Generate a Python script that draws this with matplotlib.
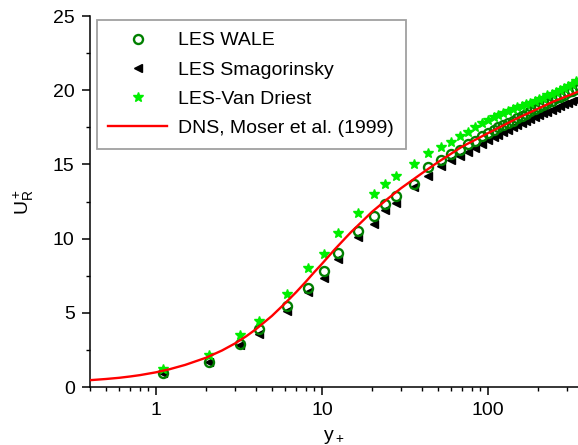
import matplotlib
matplotlib.use("Agg")
import matplotlib.pyplot as plt
from matplotlib.ticker import MultipleLocator, LogLocator, NullFormatter, FixedLocator, FixedFormatter

plt.rcParams['font.family'] = ['Liberation Sans', 'DejaVu Sans']
plt.rcParams['mathtext.default'] = 'regular'

# wall distance of the LES grid points (y+)
yplus = [1.1, 2.1, 3.2, 4.2, 6.2, 8.3, 10.3, 12.5, 16.5, 20.5, 23.9, 27.9,
         35.8, 43.5, 52.1, 59.8, 67.7, 75.7, 83.5, 91.9, 100, 108.6, 116,
         124, 132, 141, 150, 160, 170, 181, 192, 204, 216, 229, 243, 257,
         272, 288, 305, 322, 340, 358]

u_wale = [0.95, 1.69, 2.9, 3.9, 5.5, 6.7, 7.8, 9.05, 10.5, 11.5, 12.35, 12.85,
          13.7, 14.8, 15.3, 15.7, 16.0, 16.35, 16.55, 16.9, 17.15, 17.35, 17.5,
          17.65, 17.8, 17.95, 18.1, 18.25, 18.4, 18.6, 18.75, 18.9, 19.0, 19.15,
          19.3, 19.45, 19.55, 19.7, 19.85, 19.95, 20.1, 20.2]

u_smag = [0.95, 1.7, 2.85, 3.6, 5.15, 6.4, 7.35, 8.6, 10.1, 11.0, 11.9, 12.4,
          13.45, 14.2, 14.9, 15.3, 15.6, 15.85, 16.1, 16.4, 16.65, 16.85, 17.0,
          17.2, 17.35, 17.5, 17.65, 17.8, 17.9, 18.05, 18.2, 18.3, 18.45, 18.55,
          18.7, 18.8, 18.95, 19.05, 19.15, 19.25, 19.35, 19.45]

u_vd = [1.2, 2.16, 3.5, 4.45, 6.3, 8.0, 9.0, 10.4, 11.75, 13.0, 13.7, 14.2,
        15.0, 15.75, 16.2, 16.5, 16.9, 17.2, 17.55, 17.8, 18.0, 18.2, 18.35,
        18.5, 18.6, 18.75, 18.85, 18.95, 19.05, 19.15, 19.3, 19.4, 19.5, 19.65,
        19.75, 19.9, 20.0, 20.15, 20.3, 20.45, 20.6, 20.7]

# DNS, Moser et al. (1999)
dns_y = [0.4, 0.5, 0.6, 0.7, 0.8, 1.0, 1.2, 1.5, 2.0, 2.5, 3.0, 3.5, 4.0, 5.0,
         6.0, 7.0, 8.0, 9.0, 10.0, 12.0, 15.0, 18.0, 20.0, 25.0, 30.0, 40.0,
         50.0, 70.0, 100.0, 150.0, 200.0, 250.0, 300.0, 350.0]
dns_u = [0.47, 0.55, 0.63, 0.72, 0.81, 1.0, 1.2, 1.5, 1.98, 2.47, 2.95, 3.43,
         3.9, 4.8, 5.65, 6.4, 7.1, 7.75, 8.3, 9.3, 10.45, 11.3, 11.8, 12.7,
         13.4, 14.4, 15.15, 16.2, 17.1, 18.1, 18.75, 19.25, 19.6, 19.9]

fig = plt.figure(figsize=(5.78, 4.45), dpi=100)
ax = fig.add_axes([0.1557, 0.130, 0.8443, 0.834])

ax.plot(yplus, u_smag, ls='none', marker='<', ms=6, color='black',
        label='LES Smagorinsky', zorder=2)
ax.plot(yplus, u_wale, ls='none', marker='o', ms=6.5, mfc='none', mec='#008000',
        mew=1.7, label='LES WALE', zorder=3)
ax.plot(yplus, u_vd, ls='none', marker='*', ms=7, color='#00ee00',
        label='LES-Van Driest', zorder=4)
ax.plot(dns_y, dns_u, color='#ff0000', lw=1.7, label='DNS, Moser et al. (1999)',
        zorder=5)

ax.set_xscale('log')
ax.set_xlim(0.4, 350)
ax.set_ylim(0, 25)

ax.xaxis.set_major_locator(FixedLocator([1, 10, 100]))
ax.xaxis.set_major_formatter(FixedFormatter(['1', '10', '100']))
ax.xaxis.set_minor_locator(LogLocator(base=10, subs=range(2, 10), numticks=20))
ax.xaxis.set_minor_formatter(NullFormatter())
ax.yaxis.set_major_locator(MultipleLocator(5))
ax.yaxis.set_minor_locator(MultipleLocator(2.5))

ax.spines['top'].set_visible(False)
ax.spines['right'].set_visible(False)
for s in ['left', 'bottom']:
    ax.spines[s].set_linewidth(1.1)

ax.tick_params(which='major', direction='out', length=6, width=1.1,
               labelsize=14, pad=5)
ax.tick_params(which='minor', direction='out', length=3, width=1.0)

ax.set_xlabel('$y_+$', fontsize=14, labelpad=6)
ax.set_ylabel('$U_R^+$', fontsize=14, labelpad=12)

handles, labels = ax.get_legend_handles_labels()
order = [1, 0, 2, 3]
leg = ax.legend([handles[i] for i in order], [labels[i] for i in order],
                loc='upper left', bbox_to_anchor=(0.014, 0.989), borderaxespad=0,
                fontsize=14, numpoints=1, handlelength=3.0, handletextpad=0.6,
                labelspacing=0.6, borderpad=0.6, fancybox=False,
                framealpha=1, edgecolor='#a0a0a0')
leg.get_frame().set_linewidth(1.3)

fig.savefig('out.png', dpi=100)
